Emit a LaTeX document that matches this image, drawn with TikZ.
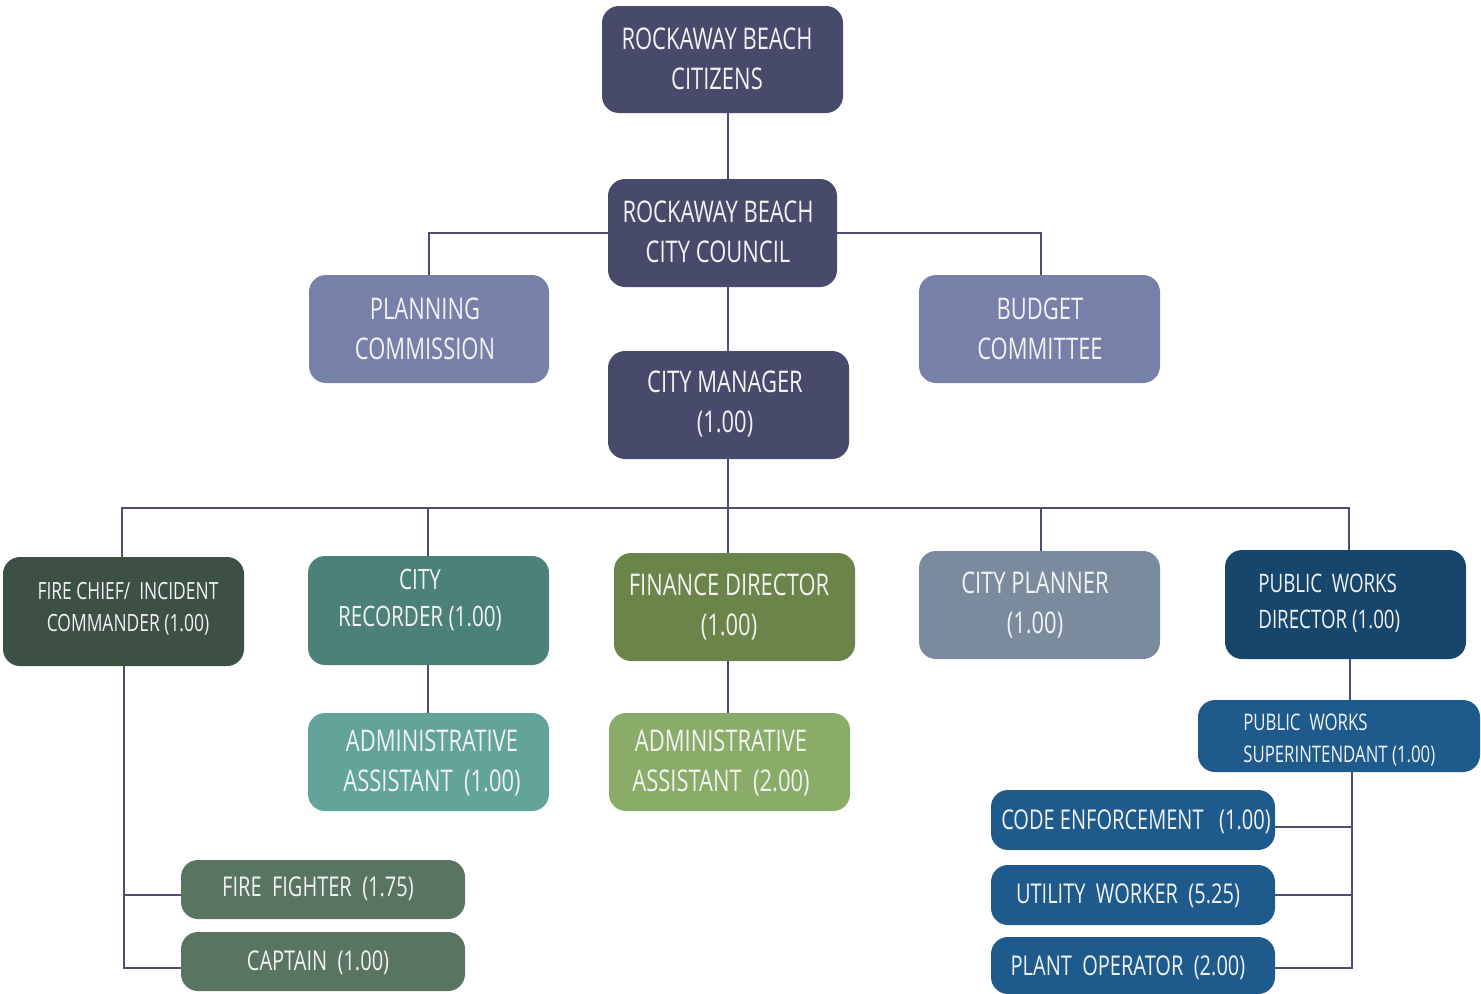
\documentclass[tikz,border=0pt]{standalone}
\usepackage{fontspec}
\setmainfont{Open Sans}[FakeStretch=0.735]
\definecolor{cNavy}{HTML}{484A6B}
\definecolor{cLav}{HTML}{7780A9}
\definecolor{cChief}{HTML}{3C5046}
\definecolor{cRec}{HTML}{4B8178}
\definecolor{cFin}{HTML}{6A8449}
\definecolor{cPlan}{HTML}{7A8B9E}
\definecolor{cPWD}{HTML}{17466D}
\definecolor{cAdmA}{HTML}{62A39A}
\definecolor{cAdmB}{HTML}{89AC68}
\definecolor{cPW}{HTML}{1E5B8C}
\definecolor{cFire}{HTML}{587562}
\definecolor{cLine}{HTML}{4F4D73}
\definecolor{cTxt}{HTML}{F2F2F2}
\tikzset{
  box/.style={draw=none, rounded corners=0.34cm, inner sep=0pt},
  txt/.style={text=cTxt, align=center, inner sep=0pt},
  conn/.style={draw=cLine, line width=1pt},
  big/.style={font=\fontsize{17}{22.7}\selectfont},
}
\newcommand\orgbox[6]{%
  \node[box, fill=#6, minimum width={(#4-#2)*0.02cm}, minimum height={(#5-#3)*0.02cm}] (#1) at ({(#2+#4)/2},{(#3+#5)/2}) {};}
\begin{document}
\begin{tikzpicture}[x=0.02cm,y=-0.02cm]
\useasboundingbox (0,0) rectangle (1481,994);
% boxes
\orgbox{cit}{602}{6}{843}{113}{cNavy}
\orgbox{council}{608}{179}{837}{287}{cNavy}
\orgbox{plan}{309}{275}{549}{383}{cLav}
\orgbox{budget}{919}{275}{1160}{383}{cLav}
\orgbox{mgr}{608}{351}{849}{459}{cNavy}
\orgbox{chief}{3}{557}{244}{666}{cChief}
\orgbox{rec}{308}{556}{549}{665}{cRec}
\orgbox{fin}{614}{553}{855}{661}{cFin}
\orgbox{planner}{919}{551}{1160}{659}{cPlan}
\orgbox{pwd}{1225}{550}{1466}{659}{cPWD}
\orgbox{admA}{308}{713}{549}{811}{cAdmA}
\orgbox{admB}{609}{713}{850}{811}{cAdmB}
\orgbox{pws}{1198}{700}{1480}{772}{cPW}
\orgbox{code}{991}{790}{1275}{850}{cPW}
\orgbox{util}{991}{865}{1275}{925}{cPW}
\orgbox{plant}{991}{937}{1275}{994}{cPW}
\orgbox{ff}{181}{860}{465}{919}{cFire}
\orgbox{capt}{181}{932}{465}{991}{cFire}
% texts
\node[txt,big] (cit-t) at (717,59) {ROCKAWAY BEACH\\CITIZENS};
\node[txt,big] (council-t) at (718,232) {ROCKAWAY BEACH\\CITY COUNCIL};
\node[txt,big] (plan-t) at (425,329) {PLANNING\\COMMISSION};
\node[txt,big] (budget-t) at (1040,329) {BUDGET\\COMMITTEE};
\node[txt,big] (mgr-t) at (725,404) {CITY MANAGER\\(1.00)};
\node[txt,font=\fontsize{13.5}{18.1}\selectfont] (chief-t) at (128,609) {FIRE CHIEF/\ \ INCIDENT\\COMMANDER (1.00)};
\node[txt,font=\fontsize{16}{21.5}\selectfont] (rec-t) at (420,600) {CITY\\RECORDER (1.00)};
\node[txt,big] (fin-t) at (729,607) {FINANCE DIRECTOR\\(1.00)};
\node[txt,big] (planner-t) at (1035,605) {CITY PLANNER\\(1.00)};
\node[txt,align=left,anchor=west,font=\fontsize{14.5}{20.4}\selectfont] (pwd-t) at (1258,603) {PUBLIC\ \ WORKS\\DIRECTOR (1.00)};
\node[txt,big] (admA-t) at (432,763) {ADMINISTRATIVE\\ASSISTANT\ \ (1.00)};
\node[txt,big] (admB-t) at (721,763) {ADMINISTRATIVE\\ASSISTANT\ \ (2.00)};
\node[txt,align=left,anchor=west,font=\fontsize{13}{18.7}\selectfont] (pws-t) at (1243,740) {PUBLIC\ \ WORKS\\SUPERINTENDANT (1.00)};
\node[txt,font=\fontsize{15.5}{20}\selectfont] (code-t) at (1136,822) {CODE ENFORCEMENT\ \ \ (1.00)};
\node[txt,font=\fontsize{15.5}{20}\selectfont] (util-t) at (1128,896) {UTILITY\ \ WORKER\ \ (5.25)};
\node[txt,font=\fontsize{15.5}{20}\selectfont] (plant-t) at (1128,968) {PLANT\ \ OPERATOR\ \ (2.00)};
\node[txt,font=\fontsize{15.5}{20}\selectfont] (ff-t) at (318,889) {FIRE\ \ FIGHTER\ \ (1.75)};
\node[txt,font=\fontsize{15.5}{20}\selectfont] (capt-t) at (318,963) {CAPTAIN\ \ (1.00)};
% guide coordinates
\coordinate (xM) at (728,0);
\coordinate (busL) at (122,508);
\coordinate (busR) at (1349,508);
\coordinate (xRec) at (428,0);
\coordinate (xPl) at (1041,0);
\coordinate (xChief) at (124,0);
\coordinate (yFF) at (0,895);
\coordinate (yCapt) at (0,968);
\coordinate (xPWD) at (1350,0);
\coordinate (xPWS) at (1352,0);
\coordinate (yCode) at (0,827);
\coordinate (yUtil) at (0,895);
\coordinate (yPlant) at (0,968);
% connectors
\draw[conn] (cit.south -| xM) -- (council.north -| xM);
\draw[conn] (council.west) -| (plan.north);
\draw[conn] (council.east) -| (budget.north -| xPl);
\draw[conn] (council.south -| xM) -- (mgr.north -| xM);
\draw[conn] (mgr.south -| xM) -- (xM |- busL);
\draw[conn] (chief.north -| busL) -- (busL) -- (busR) -- (pwd.north -| busR);
\draw[conn] (rec.north -| xRec) -- (xRec |- busL);
\draw[conn] (fin.north -| xM) -- (xM |- busL);
\draw[conn] (planner.north -| xPl) -- (xPl |- busL);
\draw[conn] (rec.south -| xRec) -- (admA.north -| xRec);
\draw[conn] (fin.south -| xM) -- (admB.north -| xM);
\draw[conn] (chief.south -| xChief) -- (xChief |- yCapt) -- (capt.west |- yCapt);
\draw[conn] (xChief |- yFF) -- (ff.west |- yFF);
\draw[conn] (pwd.south -| xPWD) -- (pws.north -| xPWD);
\draw[conn] (pws.south -| xPWS) -- (xPWS |- yPlant) -- (plant.east |- yPlant);
\draw[conn] (xPWS |- yCode) -- (code.east |- yCode);
\draw[conn] (xPWS |- yUtil) -- (util.east |- yUtil);
\end{tikzpicture}
\end{document}
